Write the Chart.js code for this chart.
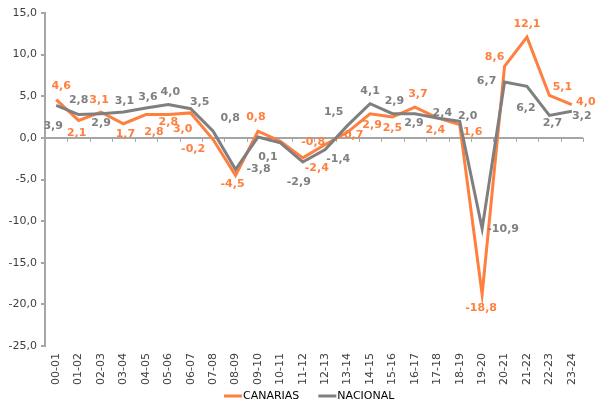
<!DOCTYPE html>
<html>
<head>
<meta charset="utf-8">
<script src="https://cdn.jsdelivr.net/npm/chart.js@4/dist/chart.umd.min.js"></script>
<style>
	html, body { margin: 0; padding: 0; background: #fff; }
	#wrap { width: 598px; height: 406px; }
</style>
</head>
<body>
<div id="wrap"><canvas id="chart1" width="598" height="406"></canvas></div>
<script>
const periods = ['00-01', '01-02', '02-03', '03-04', '04-05', '05-06', '06-07', '07-08', '08-09', '09-10', '10-11', '11-12',
	'12-13', '13-14', '14-15', '15-16', '16-17', '17-18', '18-19', '19-20', '20-21', '21-22', '22-23', '23-24']

const canarias = [4.6, 2.1, 3.1, 1.7, 2.8, 2.8, 3.0, -0.2, -4.5, 0.8, -0.4, -2.4,
	-0.8, 0.7, 2.9, 2.5, 3.7, 2.4, 1.6, -18.8, 8.6, 12.1, 5.1, 4.0]

const nacional = [3.9, 2.8, 2.9, 3.1, 3.6, 4.0, 3.5, 0.8, -3.8, 0.1, -0.6, -2.9,
	-1.4, 1.5, 4.1, 2.9, 2.9, 2.4, 2.0, -10.9, 6.7, 6.2, 2.7, 3.2]

const colors = {
	canarias: '#FF7F3F',
	nacional: '#7F7F7F',
	axis: '#A6A6A6',
	text: '#404040',
}

// where each value label sits relative to its point (null = no label)
const canariasLabelPos = [[5, -13], [-2, 13], [-2, -12], [2, 10], [8, 18], [0, 8], [-8, 16], [-20, 10], [-3, 9], [-2, -14], null, [14, 10],
	[-12, -2], [6, 3], [2, 11], [0, 11], [3, -13], [-2, 12], [13, 8], [-1, 14], [-10, -9], [0, -13], [13, -8], [14, -2]]
const nacionalLabelPos = [[-3, 21], [0, -14], [0, 9], [1, -11], [2, -11], [2, -12], [9, -7], [17, -13], [23, 0], [10, 20], null, [-4, 20],
	[13, 10], [-14, -13], [0, -13], [2, -13], [-1, 9], [5, -5], [8, -5], [21, 0], [-18, -1], [-1, 22], [3, 8], [10, 5]]

const fmt = v => v.toFixed(1).replace('.', ',')

const valueLabels = {
	id: 'valueLabels',
	afterDatasetsDraw(chart) {
		const ctx = chart.ctx
		ctx.save()
		ctx.font = 'bold 11px "DejaVu Sans"'
		ctx.textAlign = 'center'
		ctx.textBaseline = 'middle'
		chart.data.datasets.forEach((ds, di) => {
			const meta = chart.getDatasetMeta(di)
			ctx.fillStyle = ds.borderColor
			meta.data.forEach((pt, i) => {
				const pos = ds.labelPos[i]
				if (!pos) return
				ctx.fillText(fmt(ds.data[i]), pt.x + pos[0], pt.y + pos[1])
			})
		})
		ctx.restore()
	},
}

// little tick marks hanging from the zero line, between categories
const zeroTicks = {
	id: 'zeroTicks',
	beforeDatasetsDraw(chart) {
		const ctx = chart.ctx
		const x = chart.scales.x
		const y0 = chart.scales.y.getPixelForValue(0)
		const step = x.getPixelForValue(1) - x.getPixelForValue(0)
		ctx.save()
		ctx.strokeStyle = colors.axis
		ctx.lineWidth = 1
		for (let i = 0; i <= periods.length; i++) {
			const px = Math.round(x.getPixelForValue(0) - step / 2 + i * step) + 0.5
			ctx.beginPath()
			ctx.moveTo(px, y0)
			ctx.lineTo(px, y0 + 4)
			ctx.stroke()
		}
		ctx.restore()
	},
}

// legend drawn by hand so it sits tight under the category labels
const bottomLegend = {
	id: 'bottomLegend',
	afterDraw(chart) {
		const ctx = chart.ctx
		const area = chart.chartArea
		const y = 396
		const lineW = 18
		const gap = 19
		ctx.save()
		ctx.font = '11px "DejaVu Sans"'
		ctx.textBaseline = 'middle'
		const items = chart.data.datasets.map(ds => ({ text: ds.label, color: ds.borderColor, w: ctx.measureText(ds.label).width }))
		const total = items.reduce((s, it) => s + lineW + 1 + it.w, 0) + gap * (items.length - 1)
		let x = Math.round((area.left + area.right) / 2 - 5 - total / 2)
		items.forEach(it => {
			ctx.strokeStyle = it.color
			ctx.lineWidth = 3
			ctx.beginPath()
			ctx.moveTo(x, y)
			ctx.lineTo(x + lineW, y)
			ctx.stroke()
			ctx.fillStyle = '#000'
			ctx.fillText(it.text, x + lineW + 1, y)
			x += lineW + 1 + it.w + gap
		})
		ctx.restore()
	},
}

const chartData = {
	labels: periods,
	datasets: [
		{
			label: 'CANARIAS',
			data: canarias,
			labelPos: canariasLabelPos,
			borderColor: colors.canarias,
			backgroundColor: colors.canarias,
			borderWidth: 3,
			pointRadius: 0,
			tension: 0,
			order: 1,
		},
		{
			label: 'NACIONAL',
			data: nacional,
			labelPos: nacionalLabelPos,
			borderColor: colors.nacional,
			backgroundColor: colors.nacional,
			borderWidth: 3,
			pointRadius: 0,
			tension: 0,
			order: 0,
		},
	],
}

const optionsData = {
	responsive: false,
	animation: false,
	layout: {
		padding: { top: 13, right: 15, bottom: 14, left: 0 },
	},
	plugins: {
		legend: { display: false },
		tooltip: { enabled: false },
	},
	scales: {
		x: {
			offset: true,
			grid: { display: false, drawTicks: false },
			border: { display: false },
			ticks: {
				minRotation: 90,
				maxRotation: 90,
				autoSkip: false,
				padding: 7,
				color: colors.text,
				font: { family: '"DejaVu Sans"', size: 11 },
			},
		},
		y: {
			min: -25,
			max: 15,
			afterFit: scale => { scale.width = 45 },
			grid: {
				color: c => (c.tick && c.tick.value === 0 ? colors.axis : 'transparent'),
				tickColor: colors.axis,
				tickLength: 4,
				lineWidth: 2,
			},
			border: { display: true, color: colors.axis, width: 2 },
			ticks: {
				stepSize: 5,
				padding: 4,
				color: colors.text,
				font: { family: '"DejaVu Sans"', size: 11 },
				callback: v => fmt(v),
			},
		},
	},
}

new Chart('chart1', { type: 'line', data: chartData, options: optionsData, plugins: [zeroTicks, valueLabels, bottomLegend] })
</script>
</body>
</html>
